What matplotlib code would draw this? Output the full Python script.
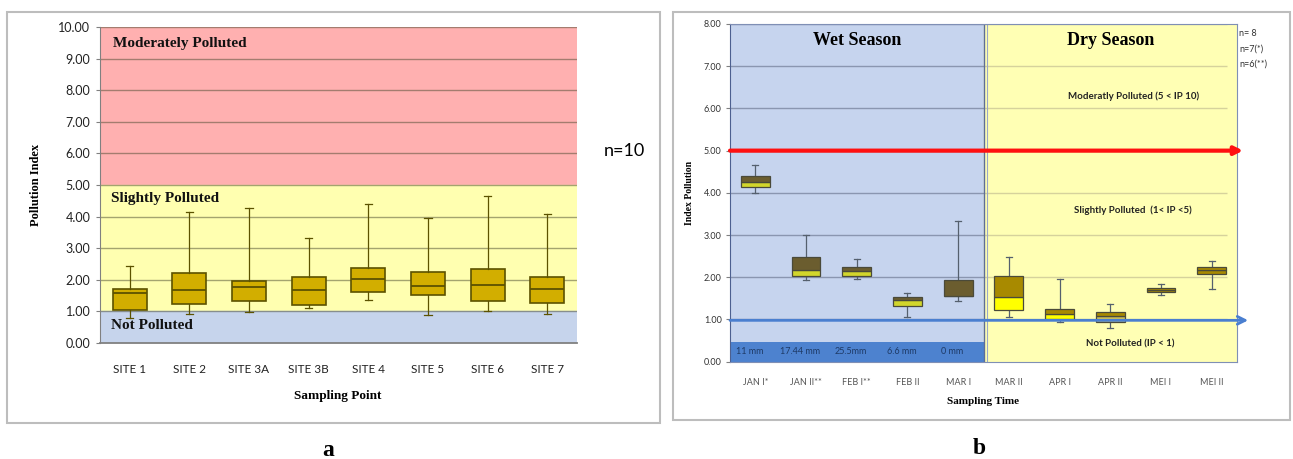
import numpy as np
import matplotlib
matplotlib.use("Agg")
import matplotlib.pyplot as plt
from matplotlib.patches import Rectangle

# panel a: pollution index per sampling point (n=10)
sites = ['SITE 1', 'SITE 2', 'SITE 3A', 'SITE 3B', 'SITE 4', 'SITE 5', 'SITE 6', 'SITE 7']
a_whislo = [0.79, 0.92, 0.97, 1.10, 1.35, 0.89, 1.02, 0.92]
a_q1 = [1.03, 1.24, 1.32, 1.21, 1.60, 1.52, 1.32, 1.28]
a_med = [1.57, 1.67, 1.78, 1.67, 2.02, 1.81, 1.84, 1.71]
a_q3 = [1.71, 2.23, 1.96, 2.08, 2.37, 2.26, 2.34, 2.08]
a_whishi = [2.45, 4.16, 4.26, 3.31, 4.40, 3.94, 4.66, 4.08]

# panel b: pollution index per sampling time
times = ['JAN I*', 'JAN II**', 'FEB I**', 'FEB II', 'MAR I',
         'MAR II', 'APR I', 'APR II', 'MEI I', 'MEI II']
b_whislo = [3.99, 1.93, 1.97, 1.05, 1.44, 1.05, 0.94, 0.79, 1.57, 1.72]
b_q1 = [4.14, 2.02, 2.04, 1.32, 1.56, 1.23, 1.02, 0.94, 1.65, 2.08]
b_med = [4.25, 2.17, 2.14, 1.45, 1.56, 1.54, 1.13, 1.09, 1.71, 2.17]
b_q3 = [4.41, 2.47, 2.24, 1.53, 1.93, 2.04, 1.26, 1.17, 1.74, 2.24]
b_whishi = [4.66, 3.01, 2.44, 1.63, 3.34, 2.48, 1.95, 1.36, 1.85, 2.38]
rainfall = ['11 mm', '17.44 mm', '25.5mm', '6.6 mm', '0 mm']

b_upper = ['#6B5D2F'] * 5 + ['#A88A00', '#A88A00', '#A88A00', '#A88A00', '#A88A00']
b_lower = ['#D2D62C'] * 5 + ['#FFFF00', '#FFFF00', '#CDBF55', '#A88A00', '#A88A00']

sans = 'Lato'
serif = 'Liberation Serif'
W, H = 1293, 459

fig = plt.figure(figsize=(W / 100, H / 100), dpi=100)

def fx(px):
    return px / W

def fy(py):
    return 1 - py / H

# panel frames
fig.add_artist(Rectangle((fx(7), fy(423)), fx(653), 411 / H, transform=fig.transFigure,
                         fill=False, edgecolor='#BDBDBD', lw=1.5))
fig.add_artist(Rectangle((fx(673), fy(420)), fx(617), 408 / H, transform=fig.transFigure,
                         fill=False, edgecolor='#BDBDBD', lw=1.5))

# ---------------- panel a ----------------
ax = fig.add_axes([fx(100), fy(343), fx(477), 316 / H])
ax.axhspan(5, 10, color='#FFB0B0', zorder=0)
ax.axhspan(1, 5, color='#FFFFB0', zorder=0)
ax.axhspan(0, 1, color='#C6D4EC', zorder=0)
for yv in range(1, 11):
    ax.axhline(yv, color='#4A4A30', alpha=0.5, lw=1, zorder=1)

stats = []
for i in range(len(sites)):
    stats.append({'whislo': a_whislo[i], 'q1': a_q1[i], 'med': a_med[i],
                  'q3': a_q3[i], 'whishi': a_whishi[i], 'fliers': []})
pos = np.arange(len(sites))
ax.bxp(stats, positions=pos, widths=0.57, capwidths=0.12, patch_artist=True,
       boxprops=dict(facecolor='#D2AE00', edgecolor='#5C5200', lw=1.2),
       medianprops=dict(color='#5C5200', lw=1.3),
       whiskerprops=dict(color='#5C5200', lw=0.9),
       capprops=dict(color='#5C5200', lw=0.9), zorder=3)

ax.set_xlim(-0.5, 7.5)
ax.set_ylim(0, 10)
ax.set_yticks(range(0, 11))
ax.set_yticklabels(['%.2f' % v for v in range(0, 11)], fontsize=9, family=sans, color='#222222')
ax.set_xticks(pos)
ax.set_xticklabels(sites, fontsize=8.5, family=sans, color='#222222')
ax.tick_params(axis='x', length=0, pad=15)
ax.tick_params(axis='y', length=3, color='#808080', pad=4)
for s in ['top', 'right']:
    ax.spines[s].set_visible(False)
ax.spines['left'].set_color('#808080')
ax.spines['bottom'].set_color('#808080')
ax.spines['bottom'].set_linewidth(1.3)

ax.text(-0.28, 9.49, 'Moderately Polluted', family=serif, weight='bold', fontsize=11,
        va='center', color='#111111', zorder=4)
ax.text(-0.31, 4.56, 'Slightly Polluted', family=serif, weight='bold', fontsize=11,
        va='center', color='#111111', zorder=4)
ax.text(-0.31, 0.54, 'Not Polluted', family=serif, weight='bold', fontsize=11,
        va='center', color='#111111', zorder=4)

fig.text(fx(36), fy(185), 'Pollution Index', rotation=90, family=serif, weight='bold',
         fontsize=9, ha='center', va='center')
fig.text(fx(338), fy(396), 'Sampling Point', family=serif, weight='bold',
         fontsize=9.5, ha='center', va='center')
fig.text(fx(624), fy(151), 'n=10', family=sans, fontsize=13, ha='center', va='center')
fig.text(fx(328), fy(450), 'a', family=serif, weight='bold', fontsize=17,
         ha='center', va='center')

# ---------------- panel b ----------------
bx = fig.add_axes([fx(730), fy(361.7), fx(507), 337.7 / H])
bx.axvspan(-0.5, 4.5, color='#C6D4EE', zorder=0)
bx.axvspan(4.5, 9.5, color='#FFFFB4', zorder=0)
bx.add_patch(Rectangle((-0.5, 0), 5, 0.47, facecolor='#4D82CF', edgecolor='none', zorder=1))
bx.hlines(range(1, 9), -0.5, 4.5, color='#8A96B0', lw=1, zorder=1)
bx.hlines(range(1, 9), 4.5, 9.3, color='#D6D29C', lw=1, zorder=1)
bx.axvline(4.5, color='#5E6E96', lw=1, zorder=2)
bx.axvline(4.56, color='#9AA8C8', lw=0.8, zorder=2)

bpos = np.arange(len(times))
bstats = []
for i in range(len(times)):
    bstats.append({'whislo': b_whislo[i], 'q1': b_q1[i], 'med': b_med[i],
                   'q3': b_q3[i], 'whishi': b_whishi[i], 'fliers': []})
bx.bxp(bstats, positions=bpos, widths=0.57, capwidths=0.12, showbox=False,
       medianprops=dict(lw=0),
       whiskerprops=dict(color='#55606E', lw=0.9),
       capprops=dict(color='#55606E', lw=0.9), zorder=3)
low_h = np.array(b_med) - np.array(b_q1)
up_h = np.array(b_q3) - np.array(b_med)
bx.bar(bpos, low_h, bottom=b_q1, width=0.57, color=b_lower, edgecolor='#4A4A3A', lw=0.9, zorder=4)
bx.bar(bpos, up_h, bottom=b_med, width=0.57, color=b_upper, edgecolor='#4A4A3A', lw=0.9, zorder=4)

# threshold arrows
bx.annotate('', xy=(9.62, 5.0), xytext=(-0.5, 5.0), annotation_clip=False,
            arrowprops=dict(arrowstyle='-|>', color='#FF1010', lw=3, mutation_scale=12,
                            shrinkA=0, shrinkB=0), zorder=5)
bx.annotate('', xy=(9.72, 0.98), xytext=(-0.5, 0.98), annotation_clip=False,
            arrowprops=dict(arrowstyle='->', color='#4A7FD0', lw=2, mutation_scale=14,
                            shrinkA=0, shrinkB=0), zorder=5)

for i, r in enumerate(rainfall):
    bx.text(i - 0.12, 0.24, r, family=sans, fontsize=6.5, color='#1E3A66',
            ha='center', va='center', zorder=6)

bx.set_xlim(-0.5, 9.5)
bx.set_ylim(0, 8)
bx.set_yticks(range(0, 9))
bx.set_yticklabels(['%.2f' % v for v in range(0, 9)], fontsize=6.5, family=sans, color='#333333')
bx.set_xticks(bpos)
bx.set_xticklabels(times, fontsize=6.5, family=sans, color='#555555')
bx.tick_params(axis='x', length=0, pad=12)
bx.tick_params(axis='y', length=3, color='#808080', pad=3)
for s in bx.spines.values():
    s.set_color('#7F8FB5')
bx.spines['left'].set_color('#4D6090')

bx.text(2.0, 7.6, 'Wet Season', family=serif, weight='bold', fontsize=13,
        ha='center', va='center', zorder=6)
bx.text(7.0, 7.6, 'Dry Season', family=serif, weight='bold', fontsize=13,
        ha='center', va='center', zorder=6)
bx.text(7.45, 6.3, 'Moderatly Polluted (5 < IP 10)', family=sans, weight='bold',
        fontsize=7, ha='center', va='center', color='#222222', zorder=6)
bx.text(7.45, 3.58, 'Slightly Polluted  (1< IP <5)', family=sans, weight='bold',
        fontsize=7, ha='center', va='center', color='#222222', zorder=6)
bx.text(7.4, 0.42, 'Not Polluted (IP < 1)', family=sans, weight='bold',
        fontsize=7, ha='center', va='center', color='#222222', zorder=6)

for k, t in enumerate(['n= 8', 'n=7(*)', 'n=6(**)']):
    fig.text(fx(1239), fy(34 + 15 * k), t, family=sans, fontsize=6.5, color='#333333',
             ha='left', va='center')

fig.text(fx(689), fy(193), 'Index Pollution', rotation=90, family=serif, weight='bold',
         fontsize=7, ha='center', va='center')
fig.text(fx(983), fy(401), 'Sampling Time', family=serif, weight='bold',
         fontsize=8, ha='center', va='center')
fig.text(fx(979), fy(448), 'b', family=serif, weight='bold', fontsize=17,
         ha='center', va='center')

fig.savefig('out.png', dpi=100)
